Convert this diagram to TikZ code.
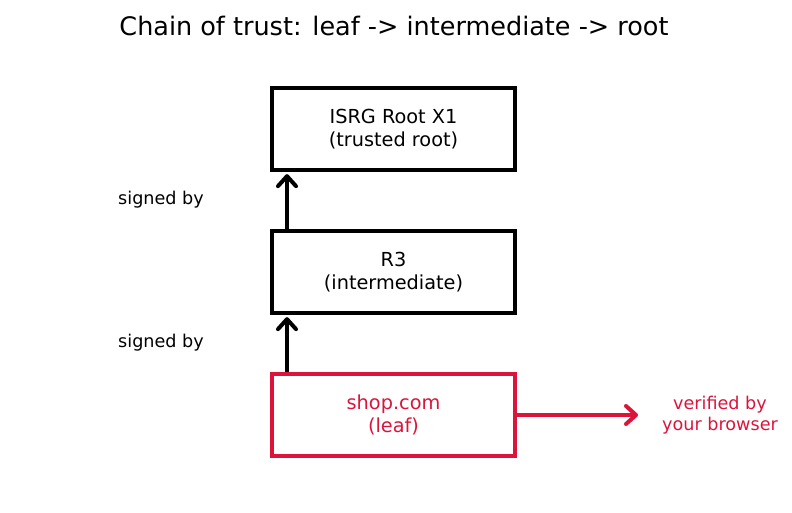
\documentclass[tikz,border=0pt]{standalone}
\usepackage{fontspec}
\setmainfont{DejaVu Sans}
\usetikzlibrary{arrows.meta}
\definecolor{leafred}{HTML}{DC143C}
\tikzset{
  cert/.style={draw=black, line width=4.3pt, minimum width=243pt, minimum height=82pt, inner sep=0pt, align=center, font=\fontsize{19.3}{23}\selectfont},
  leafcert/.style={cert, draw=leafred, text=leafred},
  sig/.style={line width=4pt, -{Straight Barb[length=10pt, width=18pt, line width=4pt, round]}, shorten >=2pt},
  lbl/.style={font=\fontsize{17.6}{21}\selectfont, align=center, inner sep=0pt}
}
\begin{document}
\begin{tikzpicture}[x=1pt,y=1pt]
\useasboundingbox (0,0) rectangle (792,512);
\node[font=\fontsize{25.5}{30}\selectfont] (title) at (394,486) {Chain of trust: leaf -> intermediate -> root};
\node[cert] (root) at (393.5,383) {ISRG Root X1\\(trusted root)};
\node[cert] (inter) at (393.5,240) {R3\\(intermediate)};
\node[leafcert] (leaf) at (393.5,97) {shop.com\\(leaf)};
\coordinate (v1) at (287,0);
\draw[sig] (inter.north -| v1) -- (root.south -| v1);
\draw[sig] (leaf.north -| v1) -- (inter.south -| v1);
\node[lbl, anchor=west] (s1) at (118,312) {signed by};
\node[lbl, anchor=west] (s2) at (118,169) {signed by};
\node[lbl, text=leafred] (vb) at (720,97) {verified by\\your browser};
\coordinate (vend) at (638,97);
\draw[sig, draw=leafred, shorten >=0pt] (leaf.east) -- (vend);
\end{tikzpicture}
\end{document}
